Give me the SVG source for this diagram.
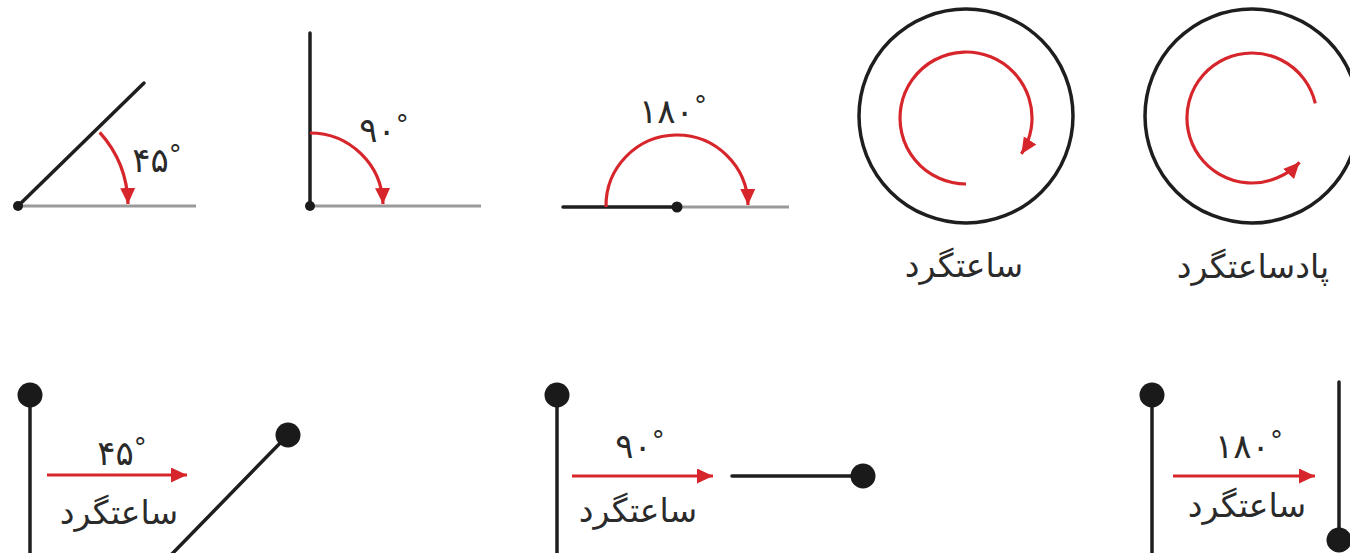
<svg xmlns="http://www.w3.org/2000/svg" width="1350" height="553" viewBox="0 0 1350 553">
<style>
.bk{stroke:#1e1e1e;stroke-width:3.5;fill:none;stroke-linecap:round}
.gr{stroke:#9a9a9a;stroke-width:3;fill:none}
.rd{stroke:#d7262b;stroke-width:3.2;fill:none}
.dot{fill:#1a1a1a}
.t{font-family:"DejaVu Sans",sans-serif;fill:#2a2a2a;text-anchor:middle}
.num{font-size:34px}
.deg{font-size:26px}
.lbl{font-size:33px}
</style>
<defs>
<marker id="ah" markerUnits="userSpaceOnUse" markerWidth="18" markerHeight="16" refX="16" refY="7.5" orient="auto">
<path d="M0,0 L16,7.5 L0,15 z" fill="#d7262b"/>
</marker>
</defs>
<rect width="1350" height="553" fill="#fff"/>

<g id="angle45">
<line class="gr" x1="18" y1="206" x2="196" y2="206"/>
<line class="bk" x1="18" y1="206" x2="144" y2="83"/>
<circle class="dot" cx="18" cy="206" r="5"/>
<path class="rd" d="M 99.7 132.4 A 110 110 0 0 1 128 204" marker-end="url(#ah)"/>
<text class="t num" x="157" y="172">۴۵<tspan class="deg" dy="-8">°</tspan></text>
</g>

<g id="angle90">
<line class="gr" x1="310" y1="206" x2="481" y2="206"/>
<line class="bk" x1="310" y1="206" x2="310" y2="33"/>
<circle class="dot" cx="310" cy="206" r="5"/>
<path class="rd" d="M 310 133 A 73 73 0 0 1 383 204" marker-end="url(#ah)"/>
<text class="t num" x="384" y="142">۹۰<tspan class="deg" dy="-8">°</tspan></text>
</g>

<g id="angle180">
<line class="gr" x1="677" y1="207" x2="789" y2="207"/>
<line class="bk" x1="563" y1="207" x2="677" y2="207"/>
<circle class="dot" cx="677" cy="207" r="5.5"/>
<path class="rd" d="M 606 207 A 71 71 0 0 1 748 205" marker-end="url(#ah)"/>
<text class="t num" x="673" y="123">۱۸۰<tspan class="deg" dy="-8">°</tspan></text>
</g>

<g id="clockwise">
<circle class="bk" cx="966" cy="116" r="107"/>
<path class="rd" d="M 966 184 A 66 66 0 1 1 1021.4 153.9" marker-end="url(#ah)"/>
<text class="t lbl" x="964" y="277">ساعتگرد</text>
</g>

<g id="counterclockwise">
<circle class="bk" cx="1252" cy="116" r="107"/>
<path class="rd" d="M 1315.3 103.4 A 65 65 0 1 0 1299.5 162.3" marker-end="url(#ah)"/>
<text class="t lbl" x="1253" y="278">پادساعتگرد</text>
</g>

<g id="rot45">
<line class="bk" x1="30" y1="395" x2="30" y2="555"/>
<circle class="dot" cx="30" cy="395" r="12.5"/>
<line class="bk" x1="288" y1="435" x2="170" y2="556"/>
<circle class="dot" cx="288" cy="435" r="12.5"/>
<text class="t num" x="122" y="465">۴۵<tspan class="deg" dy="-8">°</tspan></text>
<line class="rd" x1="47" y1="475" x2="187" y2="475" marker-end="url(#ah)"/>
<text class="t lbl" x="119" y="524">ساعتگرد</text>
</g>

<g id="rot90">
<line class="bk" x1="557" y1="395" x2="557" y2="555"/>
<circle class="dot" cx="557" cy="395" r="12.5"/>
<line class="bk" x1="732" y1="476" x2="863" y2="476"/>
<circle class="dot" cx="863" cy="476" r="12.5"/>
<text class="t num" x="640" y="458">۹۰<tspan class="deg" dy="-8">°</tspan></text>
<line class="rd" x1="572" y1="476" x2="713" y2="476" marker-end="url(#ah)"/>
<text class="t lbl" x="638" y="522">ساعتگرد</text>
</g>

<g id="rot180">
<line class="bk" x1="1152" y1="395" x2="1152" y2="555"/>
<circle class="dot" cx="1152" cy="395" r="12.5"/>
<line class="bk" x1="1339" y1="382" x2="1339" y2="540"/>
<circle class="dot" cx="1339" cy="540" r="12.5"/>
<text class="t num" x="1249" y="458">۱۸۰<tspan class="deg" dy="-8">°</tspan></text>
<line class="rd" x1="1173" y1="476" x2="1315" y2="476" marker-end="url(#ah)"/>
<text class="t lbl" x="1247" y="517">ساعتگرد</text>
</g>
</svg>
